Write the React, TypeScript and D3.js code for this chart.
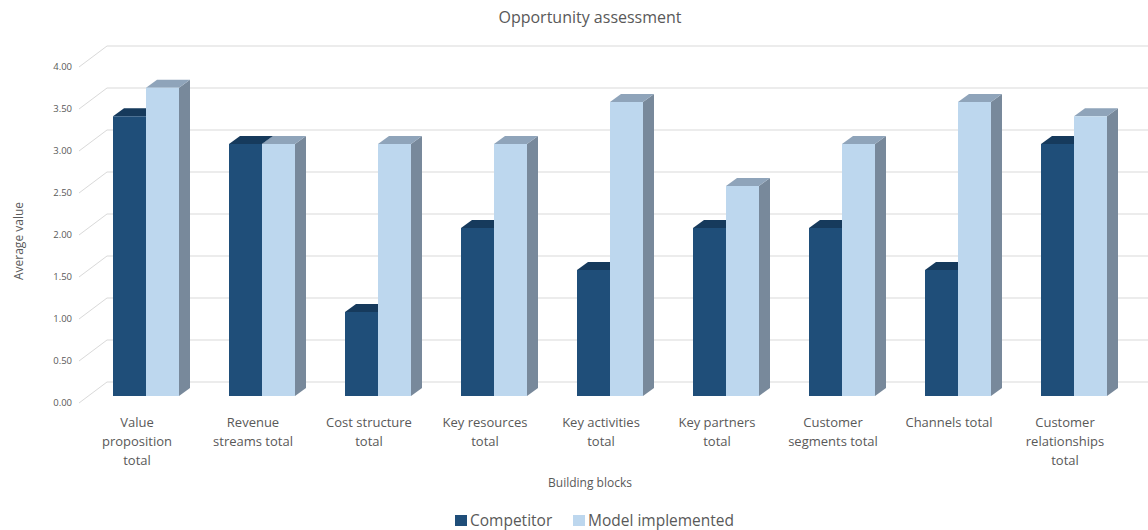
import React from "react";
import * as d3 from "d3";

const categories = [
  "Value\nproposition\ntotal",
  "Revenue\nstreams total",
  "Cost structure\ntotal",
  "Key resources\ntotal",
  "Key activities\ntotal",
  "Key partners\ntotal",
  "Customer\nsegments total",
  "Channels total",
  "Customer\nrelationships\ntotal",
];
const seriesNames = ["Competitor", "Model implemented"];
const competitor = [3.33, 3.0, 1.0, 2.0, 1.5, 2.0, 2.0, 1.5, 3.0];
const modelImplemented = [3.67, 3.0, 3.0, 3.0, 3.5, 2.5, 3.0, 3.5, 3.33];
const yTicks = [0, 0.5, 1, 1.5, 2, 2.5, 3, 3.5, 4];

const W = 1148;
const H = 530;
const FONT = "'Open Sans', 'Noto Sans', sans-serif";
const TXT = "#595959";

// 3D geometry
const WALL_DX = 28, WALL_DY = -21; // floor depth
const BAR_OFF_DX = 9, BAR_OFF_DY = -7; // bar front plane offset
const BAR_DX = 11, BAR_DY = -8; // bar depth

const faceColors = [
  { front: "#1F4E79", top: "#163A5C", side: "#153B5E" },
  { front: "#BDD7EE", top: "#8FA4BA", side: "#78899B" },
];

export default function App() {
  const x0 = d3.scaleBand<string>().domain(categories).range([79, 1123]).padding(0);
  const inner = 66;
  const x1 = d3.scaleBand<string>().domain(seriesNames).range([0, inner]).padding(0);
  const y = d3.scaleLinear().domain([0, 4]).range([403, 67]);
  const values = [competitor, modelImplemented];
  const fx0 = x0.range()[0];

  const bars: React.ReactNode[] = [];
  categories.forEach((c, i) => {
    const start = (x0(c) as number) + (x0.bandwidth() - inner) / 2;
    seriesNames.forEach((s, si) => {
      const v = values[si][i];
      const xl = start + (x1(s) as number) + BAR_OFF_DX;
      const xr = xl + x1.bandwidth();
      const yb = y(0) + BAR_OFF_DY;
      const yt = y(v) + BAR_OFF_DY;
      const col = faceColors[si];
      const top = `M${xl},${yt} L${xr},${yt} L${xr + BAR_DX},${yt + BAR_DY} L${xl + BAR_DX},${yt + BAR_DY} Z`;
      const side = `M${xr},${yt} L${xr + BAR_DX},${yt + BAR_DY} L${xr + BAR_DX},${yb + BAR_DY} L${xr},${yb} Z`;
      bars.push(
        <g key={`${i}-${si}`}>
          <path d={side} fill={col.side} />
          <path d={top} fill={col.top} />
          <rect x={xl} y={yt} width={xr - xl} height={yb - yt} fill={col.front} />
        </g>
      );
    });
  });

  return (
    <div style={{ position: "absolute", left: 0, top: 0, width: W, height: H, background: "#fff" }}>
      <svg width={W} height={H} style={{ display: "block" }}>
        <rect width={W} height={H} fill="#fff" />
        {/* gridlines */}
        {yTicks.map((t) => (
          <g key={t}>
            <line x1={fx0} y1={y(t)} x2={fx0 + WALL_DX} y2={y(t) + WALL_DY} stroke="#D9D9D9" strokeWidth={1} />
            <line x1={fx0 + WALL_DX} y1={y(t) + WALL_DY} x2={W} y2={y(t) + WALL_DY} stroke="#D9D9D9" strokeWidth={1} />
          </g>
        ))}
        {/* y tick labels */}
        {yTicks.map((t) => (
          <text key={`l${t}`} x={72} y={y(t)} dy="0.35em" textAnchor="end" fontSize={9.5} fill={TXT} fontFamily={FONT}>
            {d3.format(".2f")(t)}
          </text>
        ))}
        {bars}
        {/* category labels */}
        {categories.map((c) => {
          const cx = (x0(c) as number) + x0.bandwidth() / 2;
          const lines = c.split("\n");
          return (
            <text key={c} textAnchor="middle" fontSize={13} fill={TXT} fontFamily={FONT}>
              {lines.map((ln, li) => (
                <tspan key={li} x={cx} y={422 + li * 19} dy="0.35em">
                  {ln}
                </tspan>
              ))}
            </text>
          );
        })}
        {/* title */}
        <text x={590} y={17} dy="0.35em" textAnchor="middle" fontSize={16} fill={TXT} fontFamily={FONT}>
          Opportunity assessment
        </text>
        {/* axis titles */}
        <text transform={`translate(19,241) rotate(-90)`} dy="0.35em" textAnchor="middle" fontSize={12} fill={TXT} fontFamily={FONT}>
          Average value
        </text>
        <text x={590} y={483} dy="0.35em" textAnchor="middle" fontSize={12} fill={TXT} fontFamily={FONT}>
          Building blocks
        </text>
        {/* legend */}
        <rect x={455} y={515} width={12} height={11} fill={faceColors[0].front} />
        <text x={470} y={521} dy="0.35em" fontSize={15.5} fill={TXT} fontFamily={FONT}>
          {seriesNames[0]}
        </text>
        <rect x={573} y={515} width={12} height={11} fill={faceColors[1].front} />
        <text x={588} y={521} dy="0.35em" fontSize={15.5} fill={TXT} fontFamily={FONT}>
          {seriesNames[1]}
        </text>
      </svg>
    </div>
  );
}
